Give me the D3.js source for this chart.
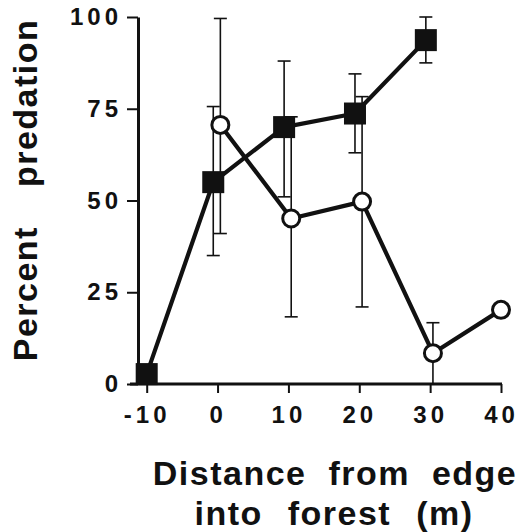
<!DOCTYPE html>
<html>
<head>
<meta charset="utf-8">
<style>
body {
   margin: 0;
   background: #fff;
   font-family: "Liberation Sans", Arial, Helvetica, sans-serif;
}
.tick text {
   font-size: 24px;
   font-weight: bold;
   letter-spacing: 4px;
   fill: #111;
}
.title {
   font-size: 34px;
   font-weight: bold;
   letter-spacing: 1.5px;
   fill: #111;
}
</style>
</head>
<body>
<div id="chart"></div>
<script src="https://d3js.org/d3.v7.min.js"></script>
<script>

// distances (m) and tick labels
var xTicks = [-10, 0, 10, 20, 30, 40];
var yTicks = [0, 25, 50, 75, 100];

// filled squares
var sqX    = [-10, 0, 10, 20, 30];
var sqMean = [2.7, 55, 70, 73.7, 93.7];
var sqLow  = [null, 35, 51, 63, 87.5];
var sqHigh = [null, 75.6, 88, 84.5, 100];

// open circles
var ciX    = [0, 10, 20, 30, 40];
var ciMean = [70.6, 45.1, 49.7, 8.4, 20.2];
var ciLow  = [41, 18.3, 21, 0, null];
var ciHigh = [99.6, 72.8, 78.3, 16.7, null];

var width = 519, height = 532;

var x = d3.scaleLinear().domain([-10, 40]).range([146.7, 501]);
var y = d3.scaleLinear().domain([0, 100]).range([384, 17]);
var axisX = 138;

var svg = d3.select("#chart").append("svg")
    .attr("width", width)
    .attr("height", height);

function series(xs, means, lows, highs, other, dodge) {
  return xs.map(function(d, i) {
    // shift a little sideways only where both series share a distance
    var shift = other.indexOf(d) >= 0 ? dodge : 0;
    return {px: x(d) + shift, mean: means[i], low: lows[i], high: highs[i]};
  });
}
var squares = series(sqX, sqMean, sqLow, sqHigh, ciX, -4.3);
var circles = series(ciX, ciMean, ciLow, ciHigh, sqX, 2.8);

// axes
var gy = svg.append("g")
    .attr("transform", "translate(" + axisX + ",0)")
    .call(d3.axisLeft(y).tickValues(yTicks).tickSizeInner(11).tickSizeOuter(0).tickPadding(5));
gy.select(".domain").attr("stroke-width", 3).attr("stroke", "#111");
gy.selectAll(".tick line").attr("stroke-width", 2).attr("stroke", "#111");

var gx = svg.append("g")
    .attr("transform", "translate(0," + y(0) + ")")
    .call(d3.axisBottom(x).tickValues(xTicks).tickFormat(function(d) { return String(d); })
      .tickSizeInner(9).tickSizeOuter(0).tickPadding(13));
gx.select(".domain").remove();
gx.selectAll(".tick line").attr("stroke-width", 2).attr("stroke", "#111");
gx.append("line")
    .attr("x1", axisX - 8).attr("x2", x(40) + 1)
    .attr("stroke", "#111").attr("stroke-width", 3);
svg.selectAll(".tick text").attr("font-family", null).attr("font-size", null);

// error bars
function errorBars(data) {
  var g = svg.append("g").attr("stroke", "#111").attr("stroke-width", 1.6);
  var d = data.filter(function(p) { return p.low !== null; });
  g.selectAll(".v").data(d).enter().append("line")
      .attr("x1", function(p) { return p.px; }).attr("x2", function(p) { return p.px; })
      .attr("y1", function(p) { return y(p.low); }).attr("y2", function(p) { return y(p.high); });
  g.selectAll(".hi").data(d).enter().append("line")
      .attr("x1", function(p) { return p.px - 6.5; }).attr("x2", function(p) { return p.px + 6.5; })
      .attr("y1", function(p) { return y(p.high); }).attr("y2", function(p) { return y(p.high); });
  g.selectAll(".lo").data(d.filter(function(p) { return p.low > 0; })).enter().append("line")
      .attr("x1", function(p) { return p.px - 6.5; }).attr("x2", function(p) { return p.px + 6.5; })
      .attr("y1", function(p) { return y(p.low); }).attr("y2", function(p) { return y(p.low); });
}
errorBars(squares);
errorBars(circles);

// connecting lines
var line = d3.line().x(function(p) { return p.px; }).y(function(p) { return y(p.mean); });
[squares, circles].forEach(function(data) {
  svg.append("path")
      .attr("d", line(data))
      .attr("fill", "none")
      .attr("stroke", "#111")
      .attr("stroke-width", 4.2)
      .attr("stroke-linejoin", "round");
});

// markers
svg.selectAll(".sq").data(squares).enter().append("rect")
    .attr("x", function(p) { return p.px - 11; })
    .attr("y", function(p) { return y(p.mean) - 11; })
    .attr("width", 22).attr("height", 22)
    .attr("fill", "#111");

svg.selectAll(".ci").data(circles).enter().append("circle")
    .attr("cx", function(p) { return p.px; })
    .attr("cy", function(p) { return y(p.mean); })
    .attr("r", 8.5)
    .attr("fill", "#fff")
    .attr("stroke", "#111")
    .attr("stroke-width", 3);

// titles
svg.append("text")
    .attr("class", "title")
    .attr("text-anchor", "middle")
    .attr("transform", "translate(37,190) rotate(-90)")
    .style("word-spacing", "28px")
    .text("Percent predation");

svg.append("text")
    .attr("class", "title")
    .attr("text-anchor", "middle")
    .attr("x", 335).attr("y", 485)
    .style("word-spacing", "11px")
    .text("Distance from edge");

svg.append("text")
    .attr("class", "title")
    .attr("text-anchor", "middle")
    .attr("x", 334).attr("y", 525)
    .style("word-spacing", "14px")
    .text("into forest (m)");

</script>
</body>
</html>
